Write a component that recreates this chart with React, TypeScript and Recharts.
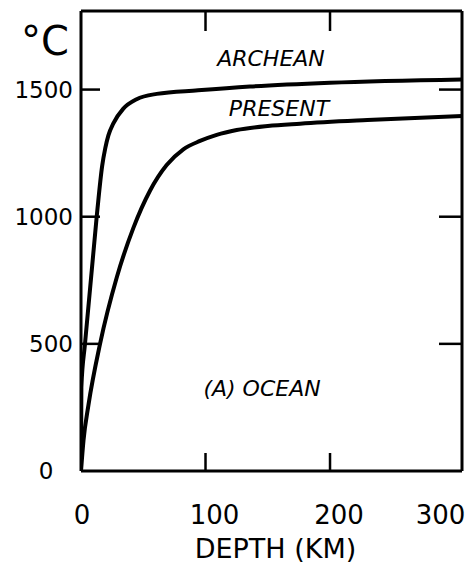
import React from 'react';
import { LineChart, Line, XAxis, YAxis, ReferenceDot, ReferenceLine } from 'recharts';

const archeanDepth = [0, 0.3, 3.2, 12.6, 17, 19.5, 22, 26, 34, 44.7, 60.8, 94, 135.7, 200, 306];
const archeanTemp = [0, 330, 500, 1000, 1200, 1270, 1320, 1367, 1425, 1462, 1483, 1497, 1512, 1527, 1540];

const presentDepth = [0, 2, 6, 15.3, 28.7, 42, 55.4, 68.8, 82.2, 95.6, 109, 125, 150, 176, 230, 306];
const presentTemp = [0, 120, 260, 500, 761, 955, 1102, 1203, 1265, 1298, 1322, 1341, 1357, 1366, 1380, 1396];

const xTickValues = [0, 100, 200, 300];
const yTickValues = [0, 500, 1000, 1500];
const xInnerTicks = [100, 200];
const yInnerTicks = [500, 1000, 1500];

const xDomain: [number, number] = [0, 306];
const yDomain: [number, number] = [0, 1809];

const archeanData = archeanDepth.map((d, i) => ({ depth: d, temp: archeanTemp[i] }));
const presentData = presentDepth.map((d, i) => ({ depth: d, temp: presentTemp[i] }));

const FONT = '"DejaVu Sans", sans-serif';

// inner tick-mark lengths expressed in °C (plot height 460 px spans the y domain)
const PX_PER_DEG = 460 / yDomain[1];
const bottomTickLen = 18 / PX_PER_DEG;
const topTickLen = 20 / PX_PER_DEG;

const XTick = (props: any) => {
  const { x, y, payload } = props;
  const v = payload.value;
  const shift = v === 300 ? -14 : v === 0 ? 1 : 9;
  return (
    <text x={x + shift} y={y} dy={53} textAnchor="middle" fontSize={26} fontFamily={FONT} fill="#000">
      {v}
    </text>
  );
};

const YTick = (props: any) => {
  const { x, y, payload } = props;
  const v = payload.value;
  if (v === 0) {
    return (
      <text x={x - 27} y={y} dy={8} textAnchor="middle" fontSize={23} fontFamily={FONT} fill="#000">
        {v}
      </text>
    );
  }
  return (
    <text x={x} y={y} dy={8} textAnchor="end" fontSize={23} fontFamily={FONT} fill="#000">
      {v}
    </text>
  );
};

const EmptyTick = () => <g />;

const DegreeLabel = (props: any) => {
  const vb = props.viewBox || { x: 0, y: 11 };
  return (
    <text x={vb.x + 45} y={vb.y + 44} textAnchor="middle" fontSize={40} fontFamily={FONT} fill="#000">
      °C
    </text>
  );
};

const DepthLabel = (props: any) => {
  const vb = props.viewBox || { x: 81, y: 471, width: 381, height: 92 };
  return (
    <text x={vb.x + vb.width / 2 + 4} y={vb.y + 87} textAnchor="middle" fontSize={27} fontFamily={FONT} fill="#000">
      DEPTH (KM)
    </text>
  );
};

const textStyle = { fontSize: 22, fontStyle: 'italic', fill: '#000', fontFamily: FONT };
const tickStroke = { stroke: '#000', strokeWidth: 2.5 };
const frameStroke = { stroke: '#000', strokeWidth: 3 };

export default function App() {
  return (
    <div style={{ position: 'absolute', left: 0, top: 0, background: '#fff' }}>
      <LineChart width={469} height={563} margin={{ top: 11, right: 7, bottom: 0, left: 0 }}>
        <XAxis
          xAxisId={0}
          type="number"
          dataKey="depth"
          domain={xDomain}
          allowDataOverflow
          ticks={xTickValues}
          interval={0}
          tickLine={false}
          tickSize={0}
          tickMargin={0}
          axisLine={frameStroke}
          tick={<XTick />}
          height={92}
          label={<DepthLabel />}
        />
        <XAxis
          xAxisId="tm"
          type="number"
          domain={xDomain}
          allowDataOverflow
          ticks={xInnerTicks}
          interval={0}
          orientation="top"
          mirror
          tick={<EmptyTick />}
          tickLine={false}
          axisLine={frameStroke}
        />
        <YAxis
          yAxisId={0}
          type="number"
          domain={yDomain}
          allowDataOverflow
          ticks={yTickValues}
          interval={0}
          tickLine={false}
          tickSize={0}
          tickMargin={8}
          width={81}
          axisLine={frameStroke}
          tick={<YTick />}
          label={<DegreeLabel />}
        />
        <YAxis
          yAxisId="lm"
          type="number"
          domain={yDomain}
          allowDataOverflow
          ticks={yInnerTicks}
          interval={0}
          orientation="left"
          mirror
          tick={<EmptyTick />}
          tickSize={19}
          axisLine={false}
          tickLine={tickStroke}
        />
        <YAxis
          yAxisId="rm"
          type="number"
          domain={yDomain}
          allowDataOverflow
          ticks={yInnerTicks}
          interval={0}
          orientation="right"
          mirror
          tick={<EmptyTick />}
          tickSize={23}
          axisLine={frameStroke}
          tickLine={tickStroke}
        />
        {xInnerTicks.map((v) => (
          <ReferenceLine
            key={'b' + v}
            segment={[{ x: v, y: 0 }, { x: v, y: bottomTickLen }]}
            stroke="#000"
            strokeWidth={2.5}
          />
        ))}
        {xInnerTicks.map((v) => (
          <ReferenceLine
            key={'t' + v}
            segment={[{ x: v, y: yDomain[1] - topTickLen }, { x: v, y: yDomain[1] }]}
            stroke="#000"
            strokeWidth={2.5}
          />
        ))}
        <Line
          data={archeanData}
          dataKey="temp"
          type="monotone"
          stroke="#000"
          strokeWidth={4}
          dot={false}
          isAnimationActive={false}
        />
        <Line
          data={presentData}
          dataKey="temp"
          type="monotone"
          stroke="#000"
          strokeWidth={4}
          dot={false}
          isAnimationActive={false}
        />
        <ReferenceDot x={152.6} y={1622} r={0} fill="none" stroke="none" label={{ value: 'ARCHEAN', position: 'center', ...textStyle }} />
        <ReferenceDot x={159} y={1427} r={0} fill="none" stroke="none" label={{ value: 'PRESENT', position: 'center', ...textStyle }} />
        <ReferenceDot x={145.4} y={326} r={0} fill="none" stroke="none" label={{ value: '(A)  OCEAN', position: 'center', ...textStyle }} />
      </LineChart>
    </div>
  );
}
